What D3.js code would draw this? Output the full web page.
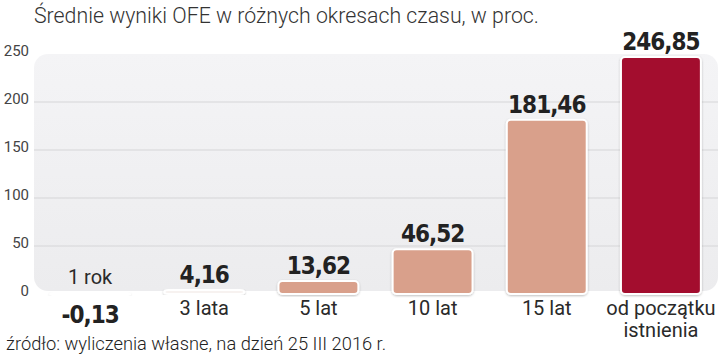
<!DOCTYPE html>
<html><head><meta charset="utf-8">
<script src="https://cdn.jsdelivr.net/npm/d3@7"></script>
<style>
body{margin:0;background:#fff;}
svg{display:block;}
.val{font-family:"Liberation Sans Narrow","DejaVu Sans Condensed",sans-serif;font-weight:bold;font-size:24px;letter-spacing:-1px;fill:#222;}
.cat{font-family:"Roboto","Liberation Sans",sans-serif;font-weight:400;font-size:20px;fill:#2a2a2a;}
.tick text{font-family:"Roboto","Liberation Sans",sans-serif;font-size:15px;fill:#444;}
</style></head><body>
<script>
const categories = ["1 rok","3 lata","5 lat","10 lat","15 lat","od początku istnienia"];
const values = [-0.13, 4.16, 13.62, 46.52, 181.46, 246.85];
const valueLabels = ["-0,13","4,16","13,62","46,52","181,46","246,85"];
const yTicks = [0,50,100,150,200,250];
const title = "Średnie wyniki OFE w różnych okresach czasu, w proc.";
const source = "źródło: wyliczenia własne, na dzień 25 III 2016 r.";

const W=720,H=357;
const svg=d3.select("body").append("svg").attr("width",W).attr("height",H);
const defs=svg.append("defs");
const f=defs.append("filter").attr("id","sh").attr("x","-20%").attr("y","-20%").attr("width","140%").attr("height","140%");
f.append("feDropShadow").attr("dx",0).attr("dy",1).attr("stdDeviation",1.2).attr("flood-color","#000").attr("flood-opacity",0.25);
const g=defs.append("linearGradient").attr("id","bg").attr("x1",0).attr("y1",0).attr("x2",0).attr("y2",1);
g.append("stop").attr("offset","0%").attr("stop-color","#f4f4f6");
g.append("stop").attr("offset","100%").attr("stop-color","#ececee");

const x=d3.scaleBand().domain(categories).range([33,718]).paddingInner(0.3).paddingOuter(0.15);
const y=d3.scaleLinear().domain([0,250]).range([294,54]);

svg.append("text").attr("x",34).attr("y",23).text(title)
  .style("font-family","Roboto,'Liberation Sans',sans-serif").style("font-weight",300).style("font-size","21.3px").style("fill","#333");

svg.append("rect").attr("x",34).attr("y",y(250)).attr("width",720-34-2).attr("height",y(0)-y(250)-3)
  .attr("rx",14).attr("fill","url(#bg)");

const ax=svg.append("g").attr("transform","translate(30,0)")
  .call(d3.axisLeft(y).tickValues(yTicks).tickSize(0).tickPadding(1));
ax.select(".domain").remove();
ax.selectAll(".tick text").attr("dy","0.1em");
svg.append("g").selectAll("line").data(yTicks.filter(d=>d>0&&d<250)).join("line")
  .attr("x1",34).attr("x2",718).attr("y1",d=>y(d)).attr("y2",d=>y(d))
  .attr("stroke","#d6d6d8").attr("stroke-width",1.2);

const colors=["#d9a08b","#d9a08b","#d9a08b","#d9a08b","#d9a08b","#a30d2d"];
svg.append("g").selectAll("rect").data(values).join("rect")
  .attr("x",(d,i)=>x(categories[i])).attr("width",x.bandwidth())
  .attr("y",d=>Math.min(y(d),y(0)-1)).attr("height",d=>Math.max(Math.abs(y(d)-y(0)),2))
  .attr("rx",4).attr("fill",(d,i)=>i===1?"#f7f2f0":colors[i]).attr("stroke","#fff").attr("stroke-width",2)
  .attr("filter","url(#sh)").attr("opacity",(d,i)=>i===0?0.5:1);

svg.append("g").selectAll("text").data(values).join("text").attr("class","val")
  .attr("text-anchor","middle")
  .attr("x",(d,i)=>x(categories[i])+x.bandwidth()/2)
  .attr("y",d=>d<0?y(0)+29:y(d)-7)
  .text((d,i)=>valueLabels[i]);

const cats=svg.append("g");
categories.forEach((c,i)=>{
  const cx=x(c)+x.bandwidth()/2;
  const t=cats.append("text").attr("class","cat").attr("text-anchor","middle").attr("x",cx);
  if(values[i]<0){ t.attr("y",y(0)-10).text(c); }
  else if(c.length>12){
    const words=c.split(" ");
    t.append("tspan").attr("x",cx).attr("y",y(0)+21).text(words.slice(0,2).join(" "));
    t.append("tspan").attr("x",cx).attr("y",y(0)+43).text(words.slice(2).join(" "));
  } else t.attr("y",y(0)+21).text(c);
});

svg.append("text").attr("x",6).attr("y",350).text(source)
  .style("font-family","Roboto,'Liberation Sans',sans-serif").style("font-weight",300).style("font-size","18.3px").style("fill","#222");
</script>
</body></html>
